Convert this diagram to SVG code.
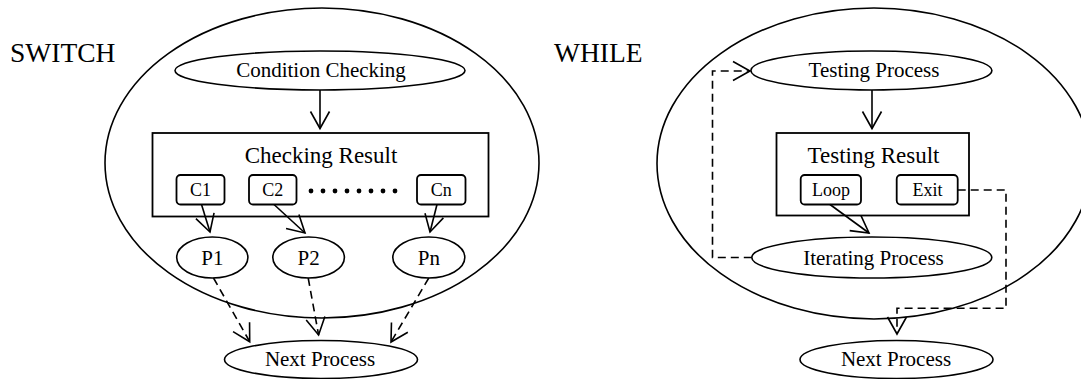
<svg xmlns="http://www.w3.org/2000/svg" width="1081" height="379" viewBox="0 0 1081 379">
<style>
.sh{fill:none;stroke:#000;stroke-width:1.6}
.bx{fill:#fff;stroke:#000;stroke-width:1.8}
.ln{fill:none;stroke:#000;stroke-width:1.6}
.ds{fill:none;stroke:#000;stroke-width:1.6;stroke-dasharray:8 5}
text{font-family:"Liberation Serif","Times New Roman",serif;fill:#000;text-anchor:middle}
.big{font-size:27.5px;text-anchor:start}
.t21{font-size:21px}
.t23{font-size:23px}
.t18{font-size:18px}
</style>
<defs>
<marker id="v" markerUnits="userSpaceOnUse" markerWidth="20" markerHeight="22" refX="18" refY="10" orient="auto" overflow="visible">
<path d="M1,0.5 L18,10 L1,19.5" fill="none" stroke="#000" stroke-width="1.6" stroke-dasharray="none"/>
</marker>
</defs>
<rect width="1081" height="379" fill="#fff"/>

<text class="big" x="10" y="62">SWITCH</text>
<text class="big" x="554" y="62">WHILE</text>

<g id="switch-boundary"><ellipse class="sh" cx="322" cy="163" rx="217" ry="155"/></g>
<g id="while-boundary"><ellipse class="sh" cx="874" cy="163.5" rx="217" ry="155.5"/></g>

<g id="condition-checking"><ellipse class="sh" cx="320" cy="70.5" rx="145" ry="19.5"/><text class="t21" x="321" y="77">Condition Checking</text></g>
<g id="checking-result"><rect class="bx" x="152.5" y="133" width="336" height="83.5"/><text class="t23" x="321" y="163">Checking Result</text>
<circle cx="311" cy="191" r="2.4"/><circle cx="323" cy="191" r="2.4"/><circle cx="335" cy="191" r="2.4"/><circle cx="347" cy="191" r="2.4"/><circle cx="359" cy="191" r="2.4"/><circle cx="371" cy="191" r="2.4"/><circle cx="383" cy="191" r="2.4"/><circle cx="395" cy="191" r="2.4"/>
</g>
<g id="c1"><rect class="bx" x="176.5" y="175" width="48" height="29.5" rx="4"/><text class="t18" x="200.5" y="195.5">C1</text></g>
<g id="c2"><rect class="bx" x="249" y="175" width="47.5" height="29.5" rx="4"/><text class="t18" x="272.7" y="195.5">C2</text></g>
<g id="cn"><rect class="bx" x="417" y="175" width="48.5" height="29.5" rx="4"/><text class="t18" x="441.2" y="195.5">Cn</text></g>
<g id="p1"><ellipse class="sh" cx="212.3" cy="257.5" rx="35.6" ry="20.5"/><text class="t21" x="212.3" y="264.5">P1</text></g>
<g id="p2"><ellipse class="sh" cx="308.6" cy="257.5" rx="35.8" ry="20.5"/><text class="t21" x="308.6" y="264.5">P2</text></g>
<g id="pn"><ellipse class="sh" cx="428.8" cy="257.5" rx="36" ry="20.5"/><text class="t21" x="428.8" y="264.5">Pn</text></g>
<g id="next-process-switch"><ellipse class="sh" cx="321" cy="359.5" rx="96.5" ry="19"/><text class="t21" x="320" y="366">Next Process</text></g>

<g id="testing-process"><ellipse class="sh" cx="871.4" cy="70.5" rx="120.5" ry="19.5"/><text class="t21" x="874" y="77">Testing Process</text></g>
<g id="testing-result"><rect class="bx" x="776.5" y="133" width="192.5" height="82.5"/><text class="t23" x="873.5" y="163">Testing Result</text></g>
<g id="loop"><rect class="bx" x="800.7" y="175" width="60.3" height="29.5" rx="4"/><text class="t18" x="831" y="195.5">Loop</text></g>
<g id="exit"><rect class="bx" x="896.7" y="175" width="61" height="29.5" rx="4"/><text class="t18" x="927.5" y="195.5">Exit</text></g>
<g id="iterating-process"><ellipse class="sh" cx="871.8" cy="257.5" rx="120" ry="20.5"/><text class="t21" x="873.5" y="264.5">Iterating Process</text></g>
<g id="next-process-while"><ellipse class="sh" cx="896.5" cy="359.5" rx="96.5" ry="19"/><text class="t21" x="896" y="366">Next Process</text></g>

<g id="connectors">
<path class="ln" d="M320,90 L320,128.5" marker-end="url(#v)"/>
<path class="ln" d="M201.5,204.5 L210,232" marker-end="url(#v)"/>
<path class="ln" d="M274,204.5 L305,233" marker-end="url(#v)"/>
<path class="ln" d="M437,204.5 L430,232" marker-end="url(#v)"/>
<path class="ds" d="M213.5,278 L249.7,341.7" marker-end="url(#v)"/>
<path class="ds" d="M308.2,278 L318.6,335" marker-end="url(#v)"/>
<path class="ds" d="M428.8,278 L391,342" marker-end="url(#v)"/>
<path class="ln" d="M872,90 L872,128.5" marker-end="url(#v)"/>
<path class="ln" d="M830,204.5 L869,233" marker-end="url(#v)"/>
<path class="ds" d="M751.8,257.5 L712.5,257.5 L712.5,71 L750,71" marker-end="url(#v)"/>
<path class="ds" d="M957.7,190 L1006,190 L1006,308.3 L897,308.3 L897,334" marker-end="url(#v)"/>
</g>
</svg>
